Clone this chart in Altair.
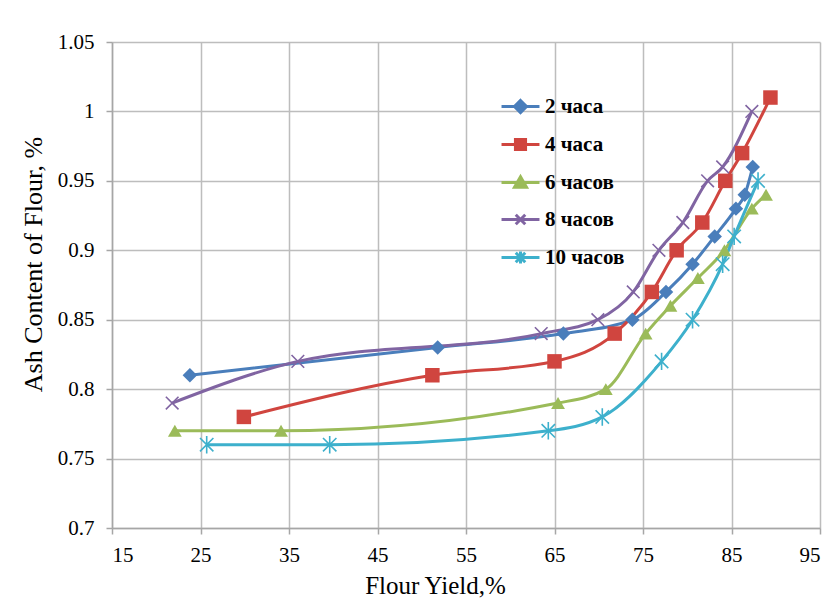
import altair as alt
import pandas as pd

names = ["2 часа", "4 часа", "6 часов", "8 часов", "10 часов"]
colors = ["#4A7EBB", "#D0453F", "#9BBB59", "#8064A2", "#3DB0CC"]

x_2 = [23.8, 51.8, 66.0, 73.8, 77.6, 80.6, 83.1, 85.5, 86.5, 87.4]
y_2 = [0.81, 0.83, 0.84, 0.85, 0.87, 0.89, 0.91, 0.93, 0.94, 0.96]
x_4 = [29.9, 51.2, 65.0, 71.8, 76.0, 78.8, 81.7, 84.3, 86.2, 89.4]
y_4 = [0.78, 0.81, 0.82, 0.84, 0.87, 0.90, 0.92, 0.95, 0.97, 1.01]
x_6 = [22.1, 34.1, 65.4, 70.8, 75.3, 78.1, 81.2, 84.2, 87.3, 88.9]
y_6 = [0.77, 0.77, 0.79, 0.80, 0.84, 0.86, 0.88, 0.90, 0.93, 0.94]
x_8 = [21.8, 36.0, 63.5, 69.9, 73.9, 76.8, 79.5, 82.3, 84.0, 87.3]
y_8 = [0.79, 0.82, 0.84, 0.85, 0.87, 0.90, 0.92, 0.95, 0.96, 1.00]
x_10 = [25.7, 39.6, 64.3, 70.4, 77.1, 80.6, 84.0, 85.3, 88.0]
y_10 = [0.76, 0.76, 0.77, 0.78, 0.82, 0.85, 0.89, 0.91, 0.95]

x_ticks = [15, 25, 35, 45, 55, 65, 75, 85, 95]
y_ticks = [0.7, 0.75, 0.8, 0.85, 0.9, 0.95, 1.0, 1.05]

series = [(names[0], x_2, y_2), (names[1], x_4, y_4), (names[2], x_6, y_6),
          (names[3], x_8, y_8), (names[4], x_10, y_10)]
rows = []
for name, xs, ys in series:
    for i, (xv, yv) in enumerate(zip(xs, ys)):
        rows.append({"series": name, "x": xv, "y": yv, "order": i})
df = pd.DataFrame(rows)

X_PATH = "M-1,-1L1,1M-1,1L1,-1"
AST_PATH = "M-1,-1L1,1M-1,1L1,-1M0,-1.3V1.3"
marker_shapes = ["diamond", "square", "triangle-up", X_PATH, AST_PATH]
marker_sizes = [210, 210, 190, 160, 180]
marker_filled = [True, True, True, False, False]

# legend symbols: a line through the marker
legend_paths = [
    "M-3,0H3M0,-0.95L0.95,0L0,0.95L-0.95,0Z",
    "M-3,0H3M-0.8,-0.8H0.8V0.8H-0.8Z",
    "M-3,0H3M0,-0.9L0.95,0.75H-0.95Z",
    "M-3,0H3M-0.75,-0.75L0.75,0.75M-0.75,0.75L0.75,-0.75",
    "M-3,0H3M-0.75,-0.75L0.75,0.75M-0.75,0.75L0.75,-0.75M0,-0.95V0.95",
]

FONT = "Liberation Serif"

xenc = alt.X("x:Q", scale=alt.Scale(domain=[15, 95], nice=False, zero=False),
             axis=alt.Axis(values=x_ticks, title="Flour Yield,%", labelPadding=10,
                           titleX=323, titleY=65, titleBaseline="alphabetic",
                           titleAlign="center", titleFontSize=25))
yenc = alt.Y("y:Q", scale=alt.Scale(domain=[0.7, 1.05], nice=False, zero=False),
             axis=alt.Axis(values=y_ticks, format="~g", title="Ash Content of Flour, %",
                           labelPadding=12,
                           titleX=-71, titleY=222, titleAngle=-90,
                           titleAlign="center", titleBaseline="alphabetic",
                           titleFontSize=26))
color_scale = alt.Scale(domain=names, range=colors)
legend = alt.Legend(
    title=None, orient="none", legendX=398, legendY=54,
    symbolSize=160, symbolStrokeWidth=3, rowPadding=14, labelOffset=14,
    labelFont=FONT, labelFontSize=21, labelFontWeight="bold", labelColor="#000000",
)

base = alt.Chart(df)
lines = base.mark_line(interpolate="monotone", strokeWidth=3).encode(
    x=xenc, y=yenc,
    color=alt.Color("series:N", scale=color_scale, legend=legend),
    order="order:Q",
    detail="series:N",
)

layers = [lines]
for name, shp, sz, fl in zip(names, marker_shapes, marker_sizes, marker_filled):
    m = base.transform_filter(alt.datum.series == name)
    if fl:
        mk = m.mark_point(filled=True, opacity=1, shape=shp, size=sz)
    else:
        mk = m.mark_point(filled=False, opacity=1, shape=shp, size=sz, strokeWidth=1.6)
    layers.append(mk.encode(x="x:Q", y="y:Q",
                            color=alt.Color("series:N", scale=color_scale, legend=legend)))

# empty layer that only supplies the legend's line-and-marker symbols
legend_layer = base.transform_filter("datum.x < 0").mark_point(filled=True).encode(
    x="x:Q", y="y:Q",
    shape=alt.Shape("series:N", scale=alt.Scale(domain=names, range=legend_paths), legend=legend),
)
layers.append(legend_layer)

chart = alt.layer(*layers).properties(
    width=708, height=486,
    autosize=alt.AutoSizeParams(type="none"),
    padding={"left": 104, "top": 34, "right": 12, "bottom": 70},
    background="white",
).configure_view(stroke=None).configure_axis(
    grid=True, gridColor="#BDBDBD", gridWidth=1.5,
    domainColor="#A6A6A6", domainWidth=1.5,
    tickColor="#A6A6A6", tickSize=6, tickWidth=1.5,
    labelFont=FONT, labelFontSize=21, labelColor="#000000",
    titleFont=FONT, titleColor="#000000", titleFontWeight="normal",
)

chart.save("out.html", embed_options={"renderer": "svg", "actions": False})
